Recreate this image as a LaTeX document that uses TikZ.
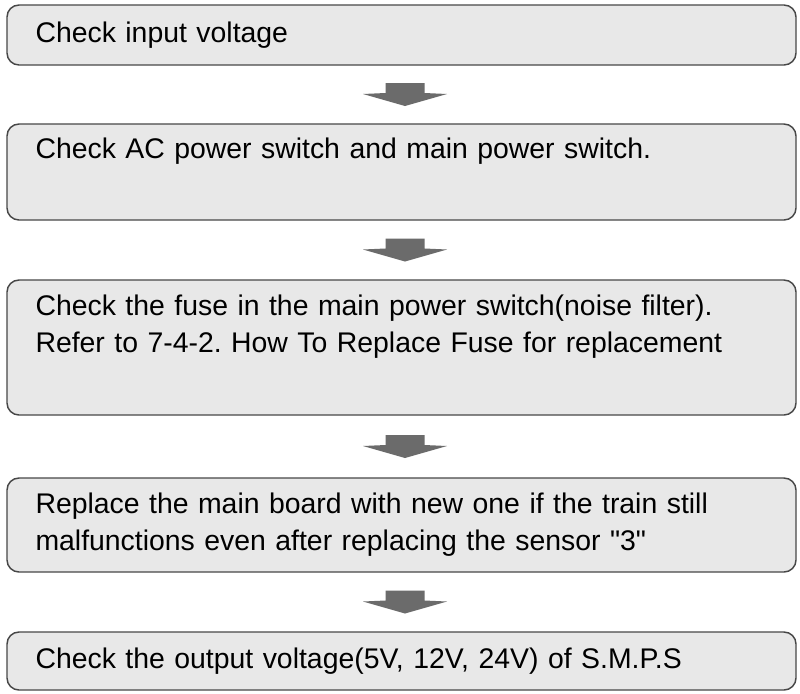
\documentclass[tikz,border=0pt]{standalone}
\usepackage{fontspec}
\setmainfont{Liberation Sans}[Ligatures=TeXOff]
\usetikzlibrary{positioning,calc}

\tikzset{
  stepbox/.style={draw=black!72, line width=1.1pt, fill=black!9, rounded corners=9pt,
    text width=549pt, align=left, inner xsep=21pt, inner ysep=0pt,
    minimum width=591.75pt, font=\fontsize{21.3}{27.75}\selectfont\frenchspacing},
  downarr/.pic={
    \fill[black!58] (-19.5,-11.5) -- (19.5,-11.5) -- (19.5,-1.5) -- (42,-0.5)
      -- (0,11.5) -- (-42,-0.5) -- (-19.5,-1.5) -- cycle;
  }
}

\begin{document}
\begin{tikzpicture}[x=0.75pt, y=-0.75pt]
    \useasboundingbox[fill=white] (0,0) rectangle (800,693);
    \node[stepbox, minimum height=45pt] (b1) at (401.5,35) {Check input voltage};
    \node[stepbox, minimum height=72pt] (b2) at (401.5,172)
      {Check AC power switch and main power switch.\\\strut};
    \node[stepbox, minimum height=101.25pt] (b3) at (401.5,347.5)
      {Check the fuse in the main power switch(noise filter).\\Refer to 7-4-2. How To Replace Fuse for replacement\\\strut};
    \node[stepbox, minimum height=70.5pt] (b4) at (401.5,525)
      {Replace the main board with new one if the train still\\malfunctions even after replacing the sensor "3"};
    \node[stepbox, minimum height=43.5pt] (b5) at (401.5,661)
      {Check the output voltage(5V, 12V, 24V) of S.M.P.S};
    \foreach \a/\b in {b1/b2,b2/b3,b3/b4,b4/b5}
      \path ($(\a.south)!.5!(\b.north)+(3.5,0)$) pic {downarr};
\end{tikzpicture}
\end{document}
